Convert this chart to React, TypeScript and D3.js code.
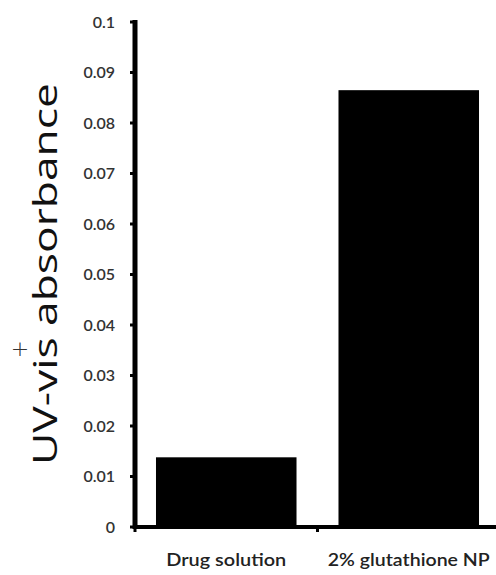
import React from "react";
import * as d3 from "d3";

const categories = ["Drug solution", "2% glutathione NP"];
const values = [0.0138, 0.0865];
const yTickValues = [0, 0.01, 0.02, 0.03, 0.04, 0.05, 0.06, 0.07, 0.08, 0.09, 0.1];
const yTickLabels = ["0", "0.01", "0.02", "0.03", "0.04", "0.05", "0.06", "0.07", "0.08", "0.09", "0.1"];
const yTitle = "UV-vis absorbance";
const xLabelWidths = [120, 162];

const W = 496;
const H = 575;
const axisX = 135;
const baseY = 527;
const topY = 22;

export default function App() {
  const y = d3.scaleLinear().domain([0, 0.1]).range([baseY, topY]);
  const x = d3
    .scaleBand<string>()
    .domain(categories)
    .range([axisX, 500])
    .paddingInner(0.23)
    .paddingOuter(0.115);
  const step = x.step();
  const xTicks = [axisX, axisX + step, axisX + 2 * step];

  return (
    <svg
      width={W}
      height={H}
      viewBox={`0 0 ${W} ${H}`}
      style={{ position: "absolute", left: 0, top: 0, background: "#fff" }}
    >
      <rect x={0} y={0} width={W} height={H} fill="#fff" />
      {categories.map((c, i) => (
        <rect
          key={c}
          x={x(c)}
          y={y(values[i])}
          width={x.bandwidth()}
          height={baseY - y(values[i])}
          fill="#000"
        />
      ))}
      <line x1={axisX} x2={axisX} y1={y(0.1) - 2} y2={baseY + 2} stroke="#000" strokeWidth={5} />
      {yTickValues.map((v, i) => (
        <g key={i}>
          <line x1={axisX - 5} x2={axisX} y1={y(v)} y2={y(v)} stroke="#000" strokeWidth={3} />
          <text
            x={115}
            y={y(v)}
            dy="0.35em"
            textAnchor="end"
            fontFamily="Lato, 'Open Sans', sans-serif"
            fontSize={16}
            fontWeight={600}
            fill="#333"
          >
            {yTickLabels[i]}
          </text>
        </g>
      ))}
      <line x1={axisX - 2} x2={W} y1={baseY} y2={baseY} stroke="#000" strokeWidth={4} />
      {xTicks.map((t, i) => (
        <line key={i} x1={t} x2={t} y1={baseY} y2={baseY + 5} stroke="#000" strokeWidth={3} />
      ))}
      {categories.map((c, i) => (
        <text
          key={c}
          x={(x(c) as number) + x.bandwidth() / 2}
          y={566}
          textAnchor="middle"
          fontFamily="Lato, 'Open Sans', sans-serif"
          fontSize={18}
          fontWeight={600}
          fill="#222"
          textLength={xLabelWidths[i]}
          lengthAdjust="spacingAndGlyphs"
        >
          {c}
        </text>
      ))}
      <text
        transform={`translate(57, 274) rotate(-90)`}
        textAnchor="middle"
        fontFamily="'Open Sans', Lato, sans-serif"
        fontSize={33}
        fill="#111"
        textLength={382}
        lengthAdjust="spacingAndGlyphs"
      >
        {yTitle}
      </text>
      <text x={20} y={348} dy="0.35em" textAnchor="middle" fontFamily="'DejaVu Sans', sans-serif" fontWeight={200} fontSize={22} fill="#333">
        +
      </text>
    </svg>
  );
}
